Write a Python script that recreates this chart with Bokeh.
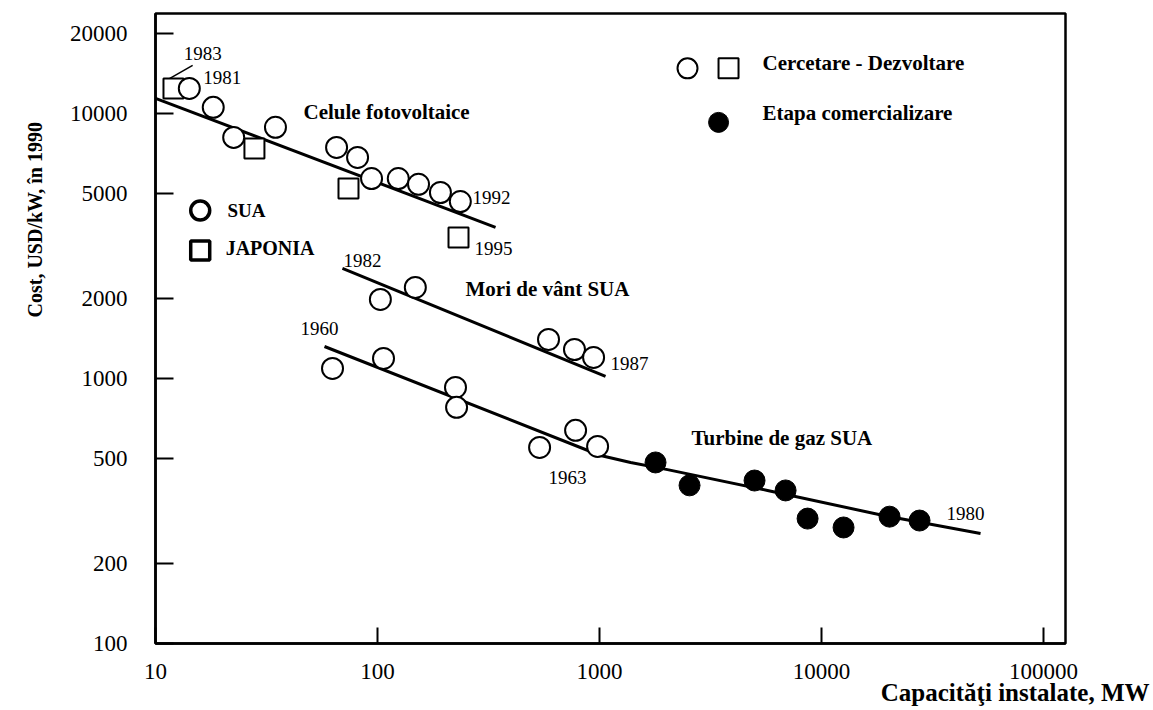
from bokeh.plotting import figure
from bokeh.models import Label, FixedTicker, PrintfTickFormatter, Range1d, Title
from bokeh.embed import file_html
from bokeh.resources import INLINE

# ---------------- data ----------------
# Celule fotovoltaice - SUA (open circles)
pv_usa_mw = [14.2, 18.2, 22.5, 34.7, 65.4, 81.3, 94.0, 124, 153, 192, 236]
pv_usa_cost = [12420, 10540, 8120, 8860, 7440, 6820, 5680, 5680, 5400, 5030, 4650]
# Celule fotovoltaice - Japonia (open squares)
pv_jp_mw = [12.05, 27.9, 74.0, 231.6]
pv_jp_cost = [12420, 7380, 5210, 3400]
# trend line PV
pv_fit_mw = [10, 340]
pv_fit_cost = [11400, 3715]

# Mori de vant SUA
wind_mw = [103, 148, 589, 771, 940]
wind_cost = [1987, 2205, 1403, 1286, 1200]
wind_fit_mw = [69.5, 1064]
wind_fit_cost = [2600, 1018]

# Turbine de gaz SUA - cercetare/dezvoltare (open) and comercializare (filled)
gas_rd_mw = [62.7, 106.4, 224.5, 227, 537, 780, 980]
gas_rd_cost = [1091, 1190, 925, 778, 549, 637, 554]
gas_com_mw = [1787, 2543, 4990, 6885, 8650, 12560, 20240, 27620]
gas_com_cost = [482, 395, 412, 378, 296, 274, 301, 291]
gas_fit_mw = [57.7, 1011, 1380, 2023, 5710, 19010, 52000]
gas_fit_cost = [1320, 512, 482, 453, 378, 304, 260]

x_ticks = [10, 100, 1000, 10000, 100000]
y_ticks = [100, 200, 500, 1000, 2000, 5000, 10000, 20000]

# legend symbol anchors (annotation positions)
leg_circle = ([2490], [14790])
leg_square = ([3810], [14790])
leg_filled = ([3436], [9250])
leg_sua = ([15.9], [4305])
leg_jp = ([15.9], [3040])

SERIF = "Liberation Serif"

p = figure(
    x_axis_type="log", y_axis_type="log",
    x_range=Range1d(10, 125500), y_range=Range1d(100, 23820),
    frame_width=910, frame_height=630,
    min_border_left=155, min_border_right=88,
    min_border_top=13, min_border_bottom=66,
    output_backend="svg", toolbar_location=None,
    background_fill_color="white", border_fill_color="white",
)
p.grid.visible = False
p.outline_line_color = "black"
p.outline_line_width = 2.5

for ax, ticks, tin in ((p.xaxis, x_ticks, 16), (p.yaxis, y_ticks, 18)):
    ax.ticker = FixedTicker(ticks=ticks, minor_ticks=[])
    ax.formatter = PrintfTickFormatter(format="%d")
    ax.major_tick_in = tin
    ax.major_tick_out = 0
    ax.minor_tick_in = 0
    ax.minor_tick_out = 0
    ax.axis_line_width = 2.5
    ax.axis_line_color = "black"
    ax.major_tick_line_width = 2
    ax.major_label_text_font = SERIF
    ax.major_label_text_font_size = "23px"
    ax.major_label_text_color = "black"
p.yaxis.major_label_standoff = 28
p.xaxis.major_label_standoff = 20

# trend lines
lw = 3
p.line(pv_fit_mw, pv_fit_cost, line_color="black", line_width=lw)
p.line(wind_fit_mw, wind_fit_cost, line_color="black", line_width=lw)
p.line(gas_fit_mw, gas_fit_cost, line_color="black", line_width=lw)
# 1983 leader
p.line([11.4, 14.7], [13440, 15170], line_color="black", line_width=1.5)

# markers
p.scatter(pv_jp_mw, pv_jp_cost, marker="square", size=20,
          fill_color="white", line_color="black", line_width=2)
p.scatter(pv_usa_mw, pv_usa_cost, marker="circle", size=21,
          fill_color="white", line_color="black", line_width=2)
p.scatter(wind_mw, wind_cost, marker="circle", size=21,
          fill_color="white", line_color="black", line_width=2)
p.scatter(gas_rd_mw, gas_rd_cost, marker="circle", size=21,
          fill_color="white", line_color="black", line_width=2)
p.scatter(gas_com_mw, gas_com_cost, marker="circle", size=21,
          fill_color="black", line_color="black", line_width=1)

# legend symbols
p.scatter(*leg_circle, marker="circle", size=20, fill_color="white",
          line_color="black", line_width=2)
p.scatter(*leg_square, marker="square", size=20, fill_color="white",
          line_color="black", line_width=2)
p.scatter(*leg_filled, marker="circle", size=20, fill_color="black",
          line_color="black")
p.scatter(*leg_sua, marker="circle", size=19, fill_color="white",
          line_color="black", line_width=3.5)
p.scatter(*leg_jp, marker="square", size=19, fill_color="white",
          line_color="black", line_width=3.5)


def lab(x, y, text, size, bold=False, align="left", angle=0):
    p.add_layout(Label(x=x, y=y, text=text, text_font=SERIF,
                       text_font_size=size,
                       text_font_style="bold" if bold else "normal",
                       text_align=align, text_baseline="middle",
                       text_color="black", angle=angle))


# year labels
yr = "19px"
lab(13.4, 16840, "1983", yr)
lab(16.4, 13680, "1981", yr)
lab(268, 4820, "1992", yr)
lab(273.5, 3095, "1995", yr)
lab(70.3, 2790, "1982", yr)
lab(1121, 1140, "1987", yr)
lab(45.0, 1545, "1960", yr)
lab(589, 423, "1963", yr)
lab(36560, 309, "1980", yr)

# series names
bs = "21px"
lab(46.4, 10090, "Celule  fotovoltaice", bs, bold=True)
lab(249, 2168, "Mori de vânt  SUA", bs, bold=True)
lab(2596, 594, "Turbine de gaz  SUA", bs, bold=True)
lab(5420, 15450, "Cercetare - Dezvoltare", bs, bold=True)
lab(5420, 10000, "Etapa comercializare", bs, bold=True)
lab(21.1, 4305, "SUA", "19px", bold=True)
lab(20.7, 3095, "JAPONIA", "20px", bold=True)

# axis titles as layout titles
x_title = Title(text="Capacităţi instalate, MW", align="right", offset=-84,
                text_font=SERIF, text_font_size="25px",
                text_font_style="bold", text_color="black")
x_title.standoff = -10
p.add_layout(x_title, "below")

y_title = Title(text="Cost, USD/kW, în 1990", align="left", offset=326,
                text_font=SERIF, text_font_size="20px",
                text_font_style="bold", text_color="black")
y_title.standoff = 42
p.add_layout(y_title, "left")

open("out.html", "w").write(file_html(p, INLINE))
